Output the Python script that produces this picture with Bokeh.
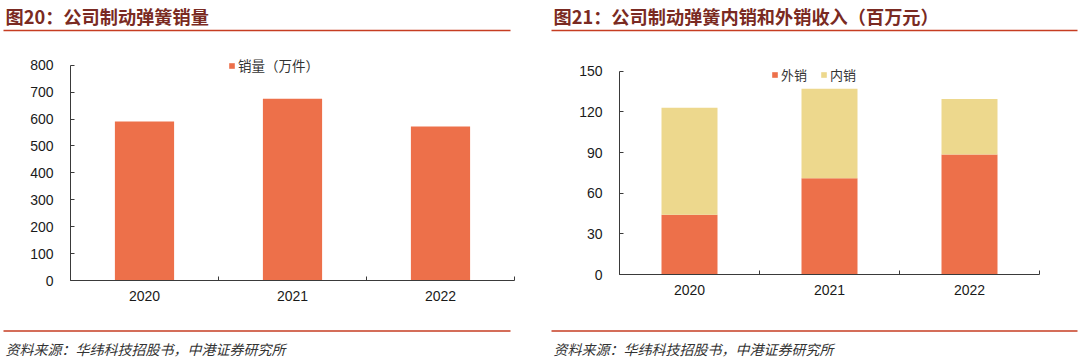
from bokeh.plotting import figure
from bokeh.layouts import column, row
from bokeh.models import Range1d, FixedTicker, Legend, LegendItem
from bokeh.embed import file_html
from bokeh.resources import INLINE
from bokeh.core.properties import value

# ---------------- data ----------------
years = ["2020", "2021", "2022"]
sales_volume = [591, 675, 572]          # 销量（万件）
export_rev = [44, 71, 88.5]             # 外销（百万元）
domestic_rev = [79, 66, 41]             # 内销（百万元）
left_y_ticks = [0, 100, 200, 300, 400, 500, 600, 700, 800]
right_y_ticks = [0, 30, 60, 90, 120, 150]

title_left = "图20：公司制动弹簧销量"
title_right = "图21：公司制动弹簧内销和外销收入（百万元）"
source_text = "资料来源：华纬科技招股书，中港证券研究所"
legend_left = "销量（万件）"
legend_export = "外销"
legend_domestic = "内销"

ORANGE = "#ED704A"
YELLOW = "#EDD88D"
TITLE_C = "#7A2A22"
RULE_C = "#C63D22"
AXIS_C = "#3A3A3A"
CJK = "Noto Sans CJK SC"
NUM = "Liberation Sans"

W = 1080
CH = 284


def deco_fig(h):
    f = figure(width=W, height=h, x_range=Range1d(0, W), y_range=Range1d(h, 0),
               x_axis_type=None, y_axis_type=None, output_backend="svg",
               toolbar_location=None, min_border=0)
    f.outline_line_color = None
    f.grid.visible = False
    return f


def chart(width, y_ticks, ml, mr, mt, mb, axis_span_px):
    """axis_span_px: pixel distance from 0 to the top tick; the frame is a bit taller
    so that the legend fits inside it, and the axis line is bounded at the top tick."""
    n = len(years)
    frame_h = CH - mt - mb
    y_top = y_ticks[-1] * frame_h / axis_span_px
    p = figure(width=width, height=CH, x_range=Range1d(0, n), y_range=Range1d(0, y_top),
               output_backend="svg", toolbar_location=None,
               min_border_left=ml, min_border_right=mr, min_border_top=mt, min_border_bottom=mb)
    p.frame_align = False
    p.outline_line_color = None
    p.grid.visible = False
    xa = p.xaxis[0]
    xa.ticker = FixedTicker(ticks=[i + 0.5 for i in range(n)], minor_ticks=list(range(n + 1)))
    xa.major_label_overrides = {i + 0.5: yv for i, yv in enumerate(years)}
    xa.major_tick_in = 0
    xa.major_tick_out = 0
    xa.minor_tick_in = 4
    xa.minor_tick_out = 0
    xa.minor_tick_line_color = AXIS_C
    xa.axis_line_color = AXIS_C
    xa.major_label_standoff = 10
    xa.major_label_text_font = NUM
    xa.major_label_text_font_size = "14px"
    xa.major_label_text_color = "#1a1a1a"
    ya = p.yaxis[0]
    ya.ticker = FixedTicker(ticks=y_ticks)
    ya.bounds = (y_ticks[0], y_ticks[-1])
    ya.major_tick_in = 4
    ya.major_tick_out = 0
    ya.minor_tick_line_color = None
    ya.major_tick_line_color = AXIS_C
    ya.axis_line_color = AXIS_C
    ya.major_label_standoff = 17
    ya.major_label_text_font = NUM
    ya.major_label_text_font_size = "14px"
    ya.major_label_text_color = "#1a1a1a"
    return p


def make_legend(items, loc, size="13px"):
    return Legend(items=items, location=loc, orientation="horizontal",
                  glyph_width=7, glyph_height=7, label_standoff=3, padding=0, margin=0,
                  spacing=13, border_line_color=None, background_fill_alpha=0,
                  label_text_font=CJK, label_text_font_size=size, label_height=14,
                  label_text_color="#333333")


# ---------------- header ----------------
hdr = deco_fig(38)
hdr.text(x=[5, 553], y=[15, 15], text=[title_left, title_right],
         text_font=value(CJK), text_font_style="bold", text_font_size="18.2px",
         text_baseline="middle", text_color=TITLE_C)
hdr.segment(x0=[3, 551], x1=[510, 1077], y0=[30, 30], y1=[30, 30],
            line_color=RULE_C, line_width=1.5)

# ---------------- left chart ----------------
xs = [i + 0.5 for i in range(len(years))]
pl = chart(548, left_y_ticks, 70, 34, 16, 42, 215.3)
rl = pl.vbar(x=xs, top=sales_volume, width=0.4, fill_color=ORANGE, line_color=None)
pl.add_layout(make_legend([LegendItem(label=legend_left, renderers=[rl])], (158, 205), "13.5px"))

# ---------------- right chart ----------------
pr = chart(532, right_y_ticks, 71, 41, 20, 48, 203.3)
src = dict(x=xs, exp=export_rev, dom=domestic_rev)
rs = pr.vbar_stack(["exp", "dom"], x="x", width=0.4, color=[ORANGE, YELLOW],
                   line_color=None, source=src)
pr.add_layout(make_legend([LegendItem(label=legend_export, renderers=[rs[0]]),
                           LegendItem(label=legend_domestic, renderers=[rs[1]])], (152, 190)))

# ---------------- footer ----------------
ftr = deco_fig(37)
ftr.segment(x0=[3, 551], x1=[510, 1077], y0=[8.5, 8.5], y1=[8.5, 8.5],
            line_color=RULE_C, line_width=1.5)
ftr.text(x=[5, 553], y=[26, 26], text=[source_text, source_text],
         text_font=value(CJK), text_font_style="italic", text_font_size="14px",
         text_baseline="middle", text_color="#333333")

layout = column(hdr, row(pl, pr), ftr)
open("out.html", "w").write(file_html(layout, INLINE))
